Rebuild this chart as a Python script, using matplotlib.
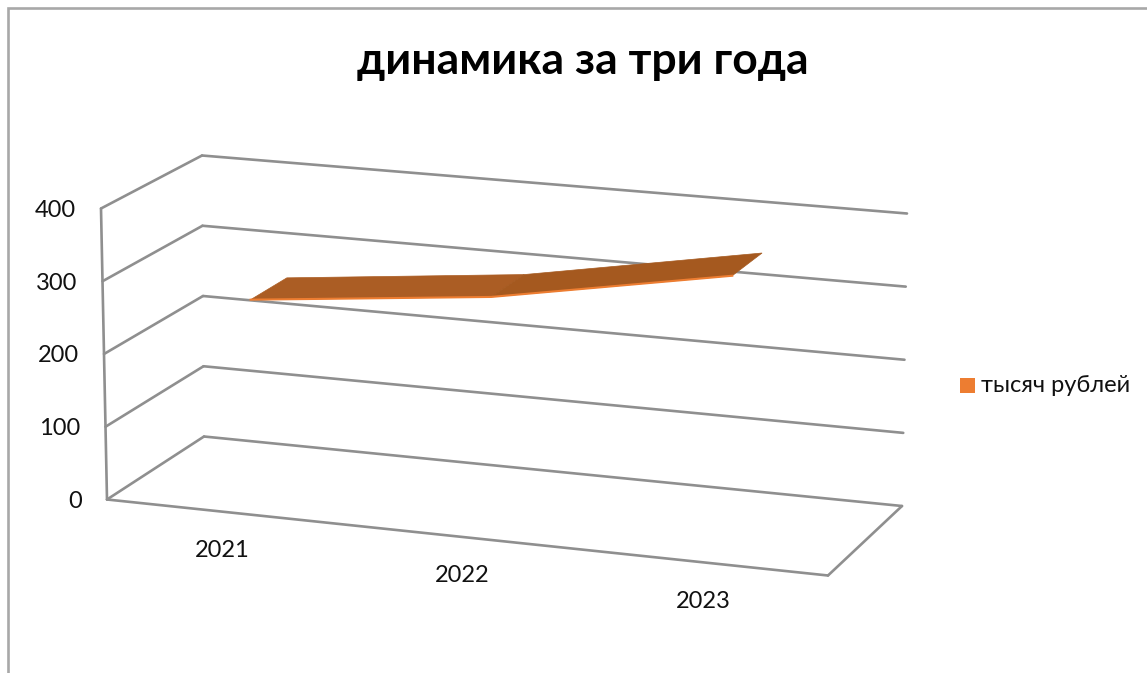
import matplotlib
matplotlib.use("Agg")
import matplotlib.pyplot as plt
from matplotlib.patches import Polygon, Rectangle

categories = ["2021", "2022", "2023"]
series_name = "тысяч рублей"
values = [268, 302, 360]
value_ticks = [0, 100, 200, 300, 400]
title = "динамика за три года"

# Pixel anchors of the 3D box: (value level, depth) -> left / right corner
FRONT_BOTTOM = ((107, 499), (828, 575))
BACK_BOTTOM = ((204, 436), (902, 505.5))
FRONT_TOP = ((101, 208), (833, 273))
BACK_TOP = ((202, 155), (907, 213))
VMAX = 400
RIBBON_FRONT, RIBBON_BACK = 0.275, 0.655
GRID = "#8f8f8f"
ORANGE = "#ED7D31"
FONT = ["Lato", "Open Sans", "DejaVu Sans"]


def lerp(a, b, t):
    return (a[0] + (b[0] - a[0]) * t, a[1] + (b[1] - a[1]) * t)


def project(u, value, depth):
    t = value / VMAX
    bottom = lerp(lerp(*FRONT_BOTTOM, u), lerp(*BACK_BOTTOM, u), depth)
    top = lerp(lerp(*FRONT_TOP, u), lerp(*BACK_TOP, u), depth)
    return lerp(bottom, top, t)


fig = plt.figure(figsize=(11.47, 6.73), dpi=100, facecolor="white")
ax = fig.add_axes([0, 0, 1, 1])
ax.set_xlim(0, 1147)
ax.set_ylim(673, 0)
ax.axis("off")

# chart frame
ax.plot([7.5, 7.5, 1147], [673, 7.5, 7.5], color="#a8a8a8", lw=1.9, solid_joinstyle="miter")


def seg(p, q, lw=1.9):
    ax.plot([p[0], q[0]], [p[1] + 0.5, q[1] + 0.5], color=GRID, lw=lw, solid_capstyle="round", zorder=2)


for v in value_ticks:
    seg(project(0, v, 0), project(0, v, 1))
    seg(project(0, v, 1), project(1, v, 1))
    ax.text(project(0, v, 0)[0] - 25, project(0, v, 0)[1] + 2.5, str(v), ha="right", va="center",
            fontsize=17, family=FONT, color="#111111")

seg(project(0, 0, 0), project(0, VMAX, 0))
seg(project(0, 0, 0), project(1, 0, 0))
seg(project(1, 0, 0), project(1, 0, 1))

n = len(categories)
us = [(i + 0.5) / n for i in range(n)]
for u, c in zip(us, categories):
    x, y = project(u, 0, 0)
    ax.text(x - 5, y + 39, c, ha="center", va="center", fontsize=17, family=FONT, color="#111111")

# ribbon
shades = ["#AB5D24", "#A5591F"]
for i in range(n - 1):
    pts = [project(us[i], values[i], RIBBON_FRONT), project(us[i + 1], values[i + 1], RIBBON_FRONT),
           project(us[i + 1], values[i + 1], RIBBON_BACK), project(us[i], values[i], RIBBON_BACK)]
    ax.add_patch(Polygon(pts, closed=True, facecolor=shades[i], edgecolor=shades[i], lw=0.5, zorder=3))
front = [project(u, v, RIBBON_FRONT) for u, v in zip(us, values)]
ax.plot([p[0] for p in front], [p[1] for p in front], color=ORANGE, lw=1.5, zorder=4)

ax.text(583, 61, title, ha="center", va="center", fontsize=32, fontweight="bold",
        family=FONT, color="black")

ax.add_patch(Rectangle((960, 378), 15, 15, facecolor=ORANGE, edgecolor="none"))
ax.text(981, 386, series_name, ha="left", va="center", fontsize=17, family=FONT, color="#111111")

fig.savefig("out.png", dpi=100)
